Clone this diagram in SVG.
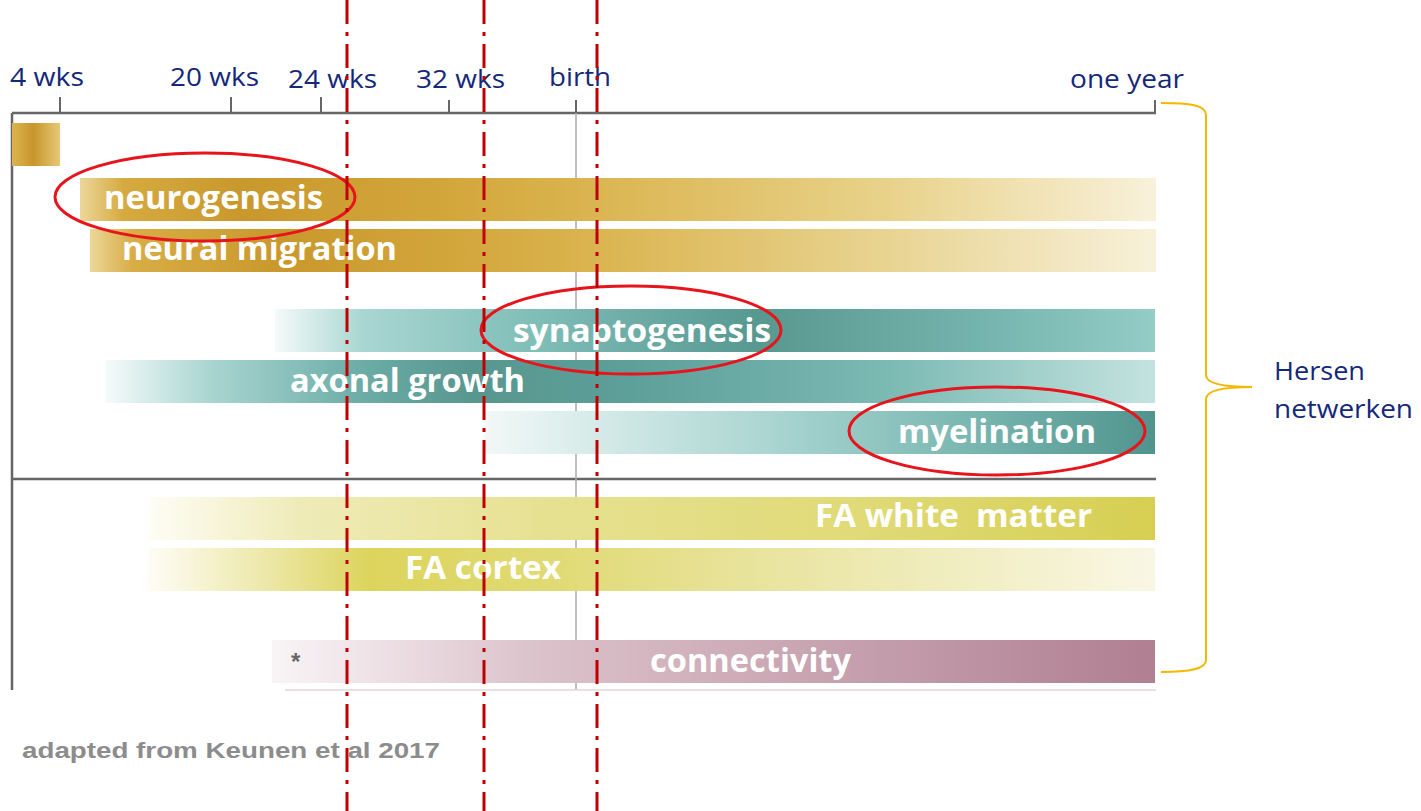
<svg xmlns="http://www.w3.org/2000/svg" width="1421" height="811" viewBox="0 0 1421 811">
<style>
.axl{font-family:"Open Sans","Liberation Sans",sans-serif;font-size:25px;fill:#14287a}
.bl{font-family:"Open Sans","Liberation Sans",sans-serif;font-weight:bold;font-size:33px;fill:#ffffff}
.ax{stroke:#666;stroke-width:2.5;fill:none}
.tk{stroke:#666;stroke-width:2;fill:none}
.ring{fill:none;stroke:#e8141c;stroke-width:3}
.red{stroke:#c00000;stroke-width:3;stroke-dasharray:24 8 4 8;fill:none}
.brace{fill:none;stroke:#f5b800;stroke-width:2}
</style>
<defs>
<linearGradient id="gSq" gradientUnits="userSpaceOnUse" x1="12" y1="0" x2="60" y2="0">
<stop offset="0" stop-color="#dcb452"/><stop offset="0.45" stop-color="#c8962a"/><stop offset="1" stop-color="#e6c878"/>
</linearGradient>
<linearGradient id="gNeuro" gradientUnits="userSpaceOnUse" x1="80" y1="0" x2="1156" y2="0">
<stop offset="0" stop-color="#ecd79a"/><stop offset="0.04" stop-color="#d6aa40"/><stop offset="0.15" stop-color="#c9982c"/><stop offset="0.35" stop-color="#d3a73c"/><stop offset="0.5" stop-color="#dcb755"/><stop offset="0.75" stop-color="#e8d28a"/><stop offset="1" stop-color="#f8f1da"/>
</linearGradient>
<linearGradient id="gMig" gradientUnits="userSpaceOnUse" x1="90" y1="0" x2="1156" y2="0">
<stop offset="0" stop-color="#ecd79a"/><stop offset="0.04" stop-color="#d8ad45"/><stop offset="0.18" stop-color="#c9982c"/><stop offset="0.35" stop-color="#d3a73c"/><stop offset="0.5" stop-color="#dcb755"/><stop offset="0.75" stop-color="#e8d492"/><stop offset="1" stop-color="#f8f1da"/>
</linearGradient>
<linearGradient id="gSyn" gradientUnits="userSpaceOnUse" x1="275" y1="0" x2="1155" y2="0">
<stop offset="0" stop-color="#f4faf9"/><stop offset="0.1" stop-color="#a9d6d2"/><stop offset="0.3" stop-color="#7fbdb7"/><stop offset="0.5" stop-color="#5e9f99"/><stop offset="0.55" stop-color="#57988f"/><stop offset="0.8" stop-color="#74b4ae"/><stop offset="1" stop-color="#94ccc6"/>
</linearGradient>
<linearGradient id="gAx" gradientUnits="userSpaceOnUse" x1="105" y1="0" x2="1155" y2="0">
<stop offset="0" stop-color="#f6fbfb"/><stop offset="0.1" stop-color="#a9d5d1"/><stop offset="0.25" stop-color="#6aaba5"/><stop offset="0.35" stop-color="#57978f"/><stop offset="0.5" stop-color="#5d9f99"/><stop offset="0.75" stop-color="#7cbab4"/><stop offset="1" stop-color="#c4e3e0"/>
</linearGradient>
<linearGradient id="gMy" gradientUnits="userSpaceOnUse" x1="485" y1="0" x2="1155" y2="0">
<stop offset="0" stop-color="#f1f8f7"/><stop offset="0.45" stop-color="#a6d3cf"/><stop offset="0.75" stop-color="#76b4ae"/><stop offset="1" stop-color="#4f948d"/>
</linearGradient>
<linearGradient id="gFw" gradientUnits="userSpaceOnUse" x1="148" y1="0" x2="1155" y2="0">
<stop offset="0" stop-color="#fefdf6"/><stop offset="0.15" stop-color="#efebb8"/><stop offset="0.4" stop-color="#e6e190"/><stop offset="0.7" stop-color="#e0da78"/><stop offset="1" stop-color="#d6cf52"/>
</linearGradient>
<linearGradient id="gFc" gradientUnits="userSpaceOnUse" x1="148" y1="0" x2="1155" y2="0">
<stop offset="0" stop-color="#fefdf6"/><stop offset="0.12" stop-color="#ece7a6"/><stop offset="0.22" stop-color="#dcd45c"/><stop offset="0.4" stop-color="#e0da74"/><stop offset="0.6" stop-color="#e8e39c"/><stop offset="1" stop-color="#f9f7e4"/>
</linearGradient>
<linearGradient id="gCon" gradientUnits="userSpaceOnUse" x1="272" y1="0" x2="1155" y2="0">
<stop offset="0" stop-color="#f8f4f6"/><stop offset="0.1" stop-color="#f0e4e9"/><stop offset="0.3" stop-color="#dbc2cb"/><stop offset="0.6" stop-color="#c9a5b2"/><stop offset="1" stop-color="#b07f92"/>
</linearGradient>
</defs>

<g id="axes">
<line class="ax" x1="12" y1="113" x2="1156" y2="113"/>
<line class="ax" x1="12" y1="113" x2="12" y2="690"/>
<line class="ax" x1="12" y1="479" x2="1156" y2="479" stroke-width="3"/>
<line x1="576" y1="100" x2="576" y2="690" stroke="#aaaaaa" stroke-width="1.5"/>
<line class="tk" x1="60" y1="97" x2="60" y2="113"/>
<line class="tk" x1="231" y1="97" x2="231" y2="113"/>
<line class="tk" x1="321" y1="97" x2="321" y2="113"/>
<line class="tk" x1="449" y1="100" x2="449" y2="113"/>
<line class="tk" x1="576" y1="100" x2="576" y2="113"/>
<line class="tk" x1="1155" y1="100" x2="1155" y2="113"/>
<text class="axl" x="10" y="86" textLength="74" lengthAdjust="spacingAndGlyphs">4 wks</text>
<text class="axl" x="170" y="86" textLength="89" lengthAdjust="spacingAndGlyphs">20 wks</text>
<text class="axl" x="288" y="88" textLength="89" lengthAdjust="spacingAndGlyphs">24 wks</text>
<text class="axl" x="416" y="88" textLength="89" lengthAdjust="spacingAndGlyphs">32 wks</text>
<text class="axl" x="549" y="86" textLength="62" lengthAdjust="spacingAndGlyphs">birth</text>
<text class="axl" x="1070" y="88" textLength="114" lengthAdjust="spacingAndGlyphs">one year</text>
</g>

<g id="bar-early"><rect x="12" y="123" width="48" height="43" fill="url(#gSq)"/></g>
<g id="bar-neurogenesis"><rect x="80" y="178" width="1076" height="43" fill="url(#gNeuro)"/><text class="bl" x="104" y="209" textLength="219" lengthAdjust="spacingAndGlyphs">neurogenesis</text></g>
<g id="bar-migration"><rect x="90" y="229" width="1066" height="43" fill="url(#gMig)"/><text class="bl" x="122" y="260" textLength="275" lengthAdjust="spacingAndGlyphs">neural migration</text></g>
<g id="bar-synaptogenesis"><rect x="275" y="309" width="880" height="43" fill="url(#gSyn)"/><text class="bl" x="513" y="342" textLength="258" lengthAdjust="spacingAndGlyphs">synaptogenesis</text></g>
<g id="bar-axonal"><rect x="105" y="360" width="1050" height="43" fill="url(#gAx)"/><text class="bl" x="290" y="392" textLength="235" lengthAdjust="spacingAndGlyphs">axonal growth</text></g>
<g id="bar-myelination"><rect x="485" y="411" width="670" height="43" fill="url(#gMy)"/><text class="bl" x="898" y="443" textLength="198" lengthAdjust="spacingAndGlyphs">myelination</text></g>
<g id="bar-fa-white"><rect x="148" y="497" width="1007" height="43" fill="url(#gFw)"/><text class="bl" x="815" y="527" textLength="277" lengthAdjust="spacingAndGlyphs" xml:space="preserve">FA white  matter</text></g>
<g id="bar-fa-cortex"><rect x="148" y="548" width="1007" height="43" fill="url(#gFc)"/><text class="bl" x="405" y="579" textLength="156" lengthAdjust="spacingAndGlyphs">FA cortex</text></g>
<g id="bar-connectivity"><rect x="272" y="640" width="883" height="43" fill="url(#gCon)"/><line x1="285" y1="690" x2="1156" y2="690" stroke="#e6d4da" stroke-width="1.5"/><text x="291" y="670" font-family="Liberation Sans, sans-serif" font-size="24" font-weight="bold" fill="#666">*</text><text class="bl" x="650" y="672" textLength="201" lengthAdjust="spacingAndGlyphs">connectivity</text></g>

<g id="highlights">
<ellipse class="ring" cx="205" cy="197" rx="150" ry="44"/>
<ellipse class="ring" cx="631" cy="330" rx="150" ry="44"/>
<ellipse class="ring" cx="997" cy="431" rx="148" ry="44"/>
</g>

<g id="connectors">
<line class="red" x1="347" y1="0" x2="347" y2="811"/>
<line class="red" x1="484" y1="0" x2="484" y2="811"/>
<line class="red" x1="597" y1="0" x2="597" y2="811"/>
<path class="brace" d="M1161,103 C1190,103 1206,105 1206,115 L1206,375 C1206,384 1225,387 1252,387 C1225,387 1206,390 1206,399 L1206,660 C1206,669 1190,672 1161,672"/>
</g>

<g id="label-hersen">
<text class="axl" x="1274" y="380" textLength="91" lengthAdjust="spacingAndGlyphs">Hersen</text>
<text class="axl" x="1274" y="418" textLength="139" lengthAdjust="spacingAndGlyphs">netwerken</text>
</g>

<g id="caption">
<text x="22" y="758" font-family="Liberation Sans, sans-serif" font-weight="bold" font-size="22" fill="#8c8c8c" textLength="418" lengthAdjust="spacingAndGlyphs">adapted from Keunen et al 2017</text>
</g>
</svg>
